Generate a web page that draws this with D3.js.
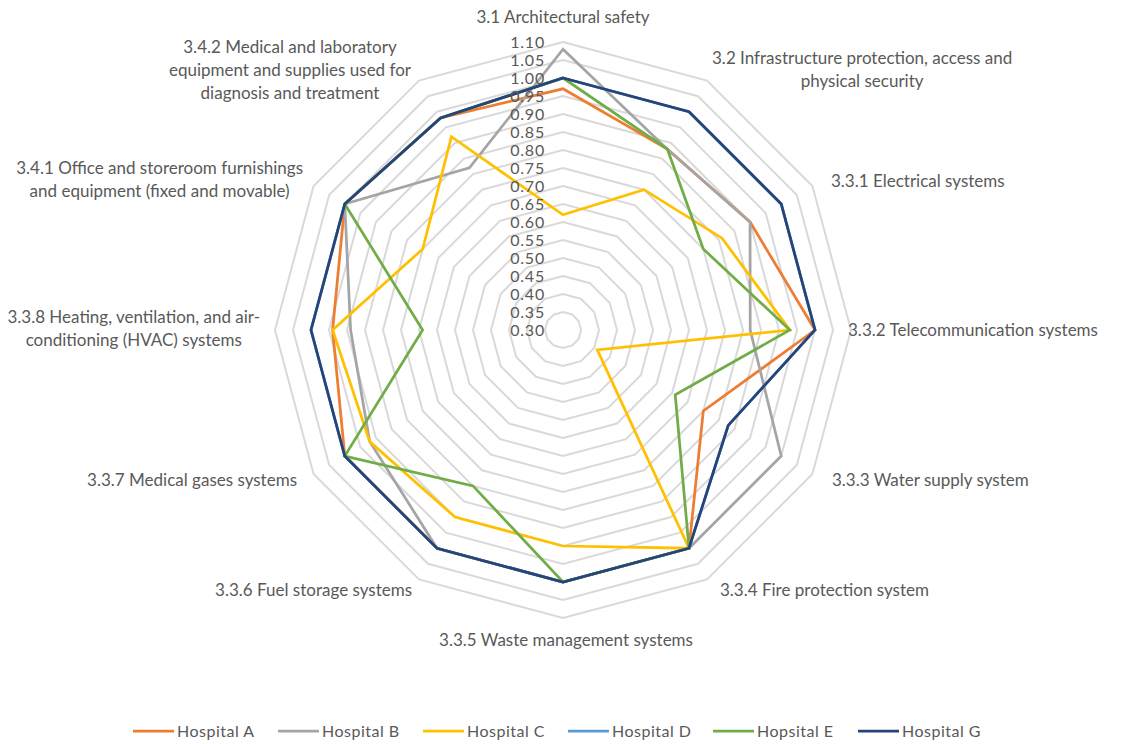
<!DOCTYPE html>
<html>
<head>
<meta charset="utf-8">
<script src="https://cdn.jsdelivr.net/npm/d3@7"></script>
<style>
  html, body { margin: 0; padding: 0; background: #ffffff; }
  svg { display: block; }
  text { font-family: Lato, "Open Sans", sans-serif; fill: #595959; }
</style>
</head>
<body>
<svg id="chart" width="1130" height="744"></svg>
<script>
// ---- DATA ----
const categories = [
  "3.1 Architectural safety",
  "3.2 Infrastructure protection, access and\nphysical security",
  "3.3.1 Electrical systems",
  "3.3.2 Telecommunication systems",
  "3.3.3 Water supply system",
  "3.3.4 Fire protection system",
  "3.3.5 Waste management systems",
  "3.3.6 Fuel storage systems",
  "3.3.7 Medical gases systems",
  "3.3.8 Heating, ventilation, and air-\nconditioning (HVAC) systems",
  "3.4.1 Office and storeroom furnishings\nand equipment (fixed and movable)",
  "3.4.2 Medical and laboratory\nequipment and supplies used for\ndiagnosis and treatment"
];
const seriesNames = ["Hospital A", "Hospital B", "Hospital C", "Hospital D", "Hopsital E", "Hospital G"];
const hospitalA = [0.97, 0.88, 0.90, 1.00, 0.75, 1.00, 1.00, 1.00, 1.00, 0.94, 1.00, 0.98];
const hospitalB = [1.08, 0.88, 0.90, 0.82, 1.00, 1.00, 1.00, 1.00, 0.92, 0.89, 1.00, 0.82];
const hospitalC = [0.62, 0.75, 0.81, 0.93, 0.41, 1.00, 0.90, 0.90, 0.92, 0.94, 0.75, 0.92];
const hospitalD = [1.00, 1.00, 1.00, 1.00, 0.83, 1.00, 1.00, 1.00, 1.00, 1.00, 1.00, 0.98];
const hospitalE = [1.00, 0.88, 0.75, 0.93, 0.66, 1.00, 1.00, 0.80, 1.00, 0.69, 1.00, 0.98];
const hospitalG = [1.00, 1.00, 1.00, 1.00, 0.83, 1.00, 1.00, 1.00, 1.00, 1.00, 1.00, 0.98];
const tickValues = [0.30, 0.35, 0.40, 0.45, 0.50, 0.55, 0.60, 0.65, 0.70, 0.75, 0.80, 0.85, 0.90, 0.95, 1.00, 1.05, 1.10];

// ---- LAYOUT / STYLE ----
const seriesValues = [hospitalA, hospitalB, hospitalC, hospitalD, hospitalE, hospitalG];
const colors = ["#ED7D31", "#A5A5A5", "#FFC000", "#5B9BD5", "#70AD47", "#264478"];
const cx = 563, cy = 330, R = 288;
const n = categories.length;
const svg = d3.select("#chart");
const g = svg.append("g").attr("transform", `translate(${cx},${cy})`);

const r = d3.scaleLinear().domain([0.30, 1.10]).range([0, R]);
const angle = d3.scalePoint().domain(d3.range(n + 1)).range([0, 2 * Math.PI]);

const radial = d3.lineRadial()
  .angle((d, i) => angle(i))
  .radius(d => r(d))
  .curve(d3.curveLinearClosed);

// grid rings
g.append("g").selectAll("path")
  .data(tickValues.filter(t => t > 0.30))
  .join("path")
  .attr("d", t => radial(d3.range(n).map(() => t)))
  .attr("fill", "none")
  .attr("stroke", "#D9D9D9")
  .attr("stroke-width", 2);

// series
g.append("g").selectAll("path")
  .data(seriesValues)
  .join("path")
  .attr("d", d => radial(d))
  .attr("fill", "none")
  .attr("stroke", (d, i) => colors[i])
  .attr("stroke-width", 2.75)
  .attr("stroke-linejoin", "miter");

// tick labels (value axis along the first spoke)
g.append("g").selectAll("text")
  .data(tickValues)
  .join("text")
  .attr("x", -18)
  .attr("y", t => -r(t))
  .attr("dy", "0.35em")
  .attr("text-anchor", "end")
  .style("font-size", "16px")
  .style("letter-spacing", "0.8px")
  .text(t => d3.format(".2f")(t));

// category labels: [anchor, x, yCenter]
const labelLayout = [
  ["middle", 563, 17],
  ["start", 712, 70],
  ["start", 831, 181],
  ["start", 848, 330],
  ["start", 832, 480],
  ["start", 720, 590],
  ["middle", 566, 640],
  ["end", 412, 590],
  ["end", 297, 480],
  ["end", 260, 329],
  ["end", 303, 180],
  ["end", 411, 70]
];
const lineH = 23;
categories.forEach((c, i) => {
  const lines = c.split("\n");
  const [anchor, ax, ay] = labelLayout[i];
  const lg = svg.append("g");
  const texts = lines.map((l, k) => lg.append("text")
    .attr("text-anchor", "middle")
    .attr("x", 0)
    .attr("y", (k - (lines.length - 1) / 2) * lineH)
    .attr("dy", "0.35em")
    .style("font-size", "17px")
    .text(l));
  const w = d3.max(texts, t => t.node().getComputedTextLength());
  let x0 = ax;
  if (anchor === "start") x0 = ax + w / 2;
  if (anchor === "end") x0 = ax - w / 2;
  lg.attr("transform", `translate(${x0},${ay})`);
});

// legend
const legendX = d3.scalePoint().domain(seriesNames).range([133, 133 + 145 * 5]);
const lgd = svg.append("g").attr("transform", "translate(0,731)");
const items = lgd.selectAll("g").data(seriesNames).join("g")
  .attr("transform", d => `translate(${legendX(d)},0)`);
items.append("line")
  .attr("x1", 0).attr("x2", 41).attr("y1", 0).attr("y2", 0)
  .attr("stroke", (d, i) => colors[i])
  .attr("stroke-width", 2.75);
items.append("text")
  .attr("x", 44).attr("y", 0).attr("dy", "0.35em")
  .style("font-size", "16px")
  .style("letter-spacing", "0.5px")
  .text(d => d);
</script>
</body>
</html>
